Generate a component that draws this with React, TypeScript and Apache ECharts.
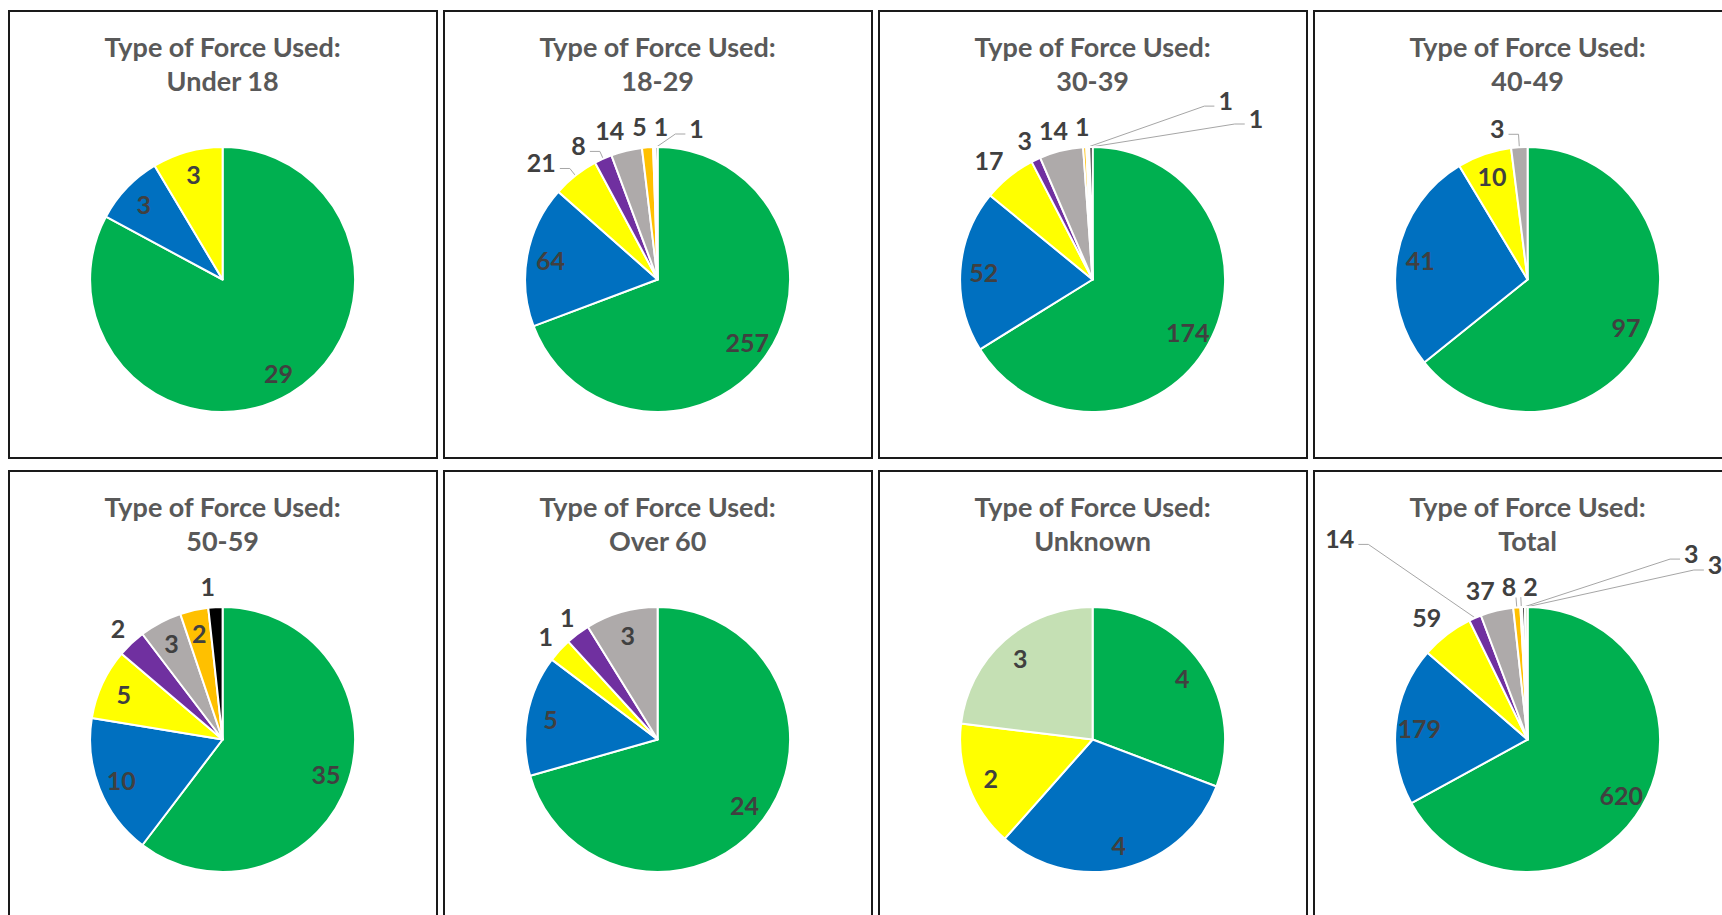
import React, { useEffect, useRef } from "react";
import * as echarts from "echarts";

// ---------- data ----------
const CATEGORIES = [
  "Category 1",
  "Category 2",
  "Category 3",
  "Category 4",
  "Category 5",
  "Category 6",
  "Category 7",
  "Category 8",
  "Category 9",
];
const CATEGORY_COLORS = [
  "#00B050",
  "#0070C0",
  "#FFFF00",
  "#7030A0",
  "#AEAAAA",
  "#FFC000",
  "#FFFFFF",
  "#000000",
  "#C5E0B4",
];

const TITLE_PREFIX = "Type of Force Used:";
const PANEL_TITLES = ["Under 18", "18-29", "30-39", "40-49", "50-59", "Over 60", "Unknown", "Total"];

const UNDER_18 = [29, 3, 3, 0, 0, 0, 0, 0, 0];
const AGE_18_29 = [257, 64, 21, 8, 14, 5, 1, 1, 0];
const AGE_30_39 = [174, 52, 17, 3, 14, 1, 1, 1, 0];
const AGE_40_49 = [97, 41, 10, 0, 3, 0, 0, 0, 0];
const AGE_50_59 = [35, 10, 5, 2, 3, 2, 0, 1, 0];
const OVER_60 = [24, 5, 1, 1, 3, 0, 0, 0, 0];
const UNKNOWN = [4, 4, 2, 0, 0, 0, 0, 0, 3];
const TOTAL = [620, 179, 59, 14, 37, 8, 2, 3, 3];

const PANEL_VALUES = [UNDER_18, AGE_18_29, AGE_30_39, AGE_40_49, AGE_50_59, OVER_60, UNKNOWN, TOTAL];

// ---------- label placement styles (per panel, per category) ----------
type LabelSpec =
  | { mode: "out" }
  | { mode: "outLine" }
  | { mode: "lead"; len: number; len2: number; side: "left" | "right" };

const OUT: LabelSpec = { mode: "out" };
const LABEL_SPECS: Record<number, LabelSpec>[] = [
  {},
  {
    2: { mode: "lead", len: 9, len2: 10, side: "left" },
    3: { mode: "lead", len: 8, len2: 10, side: "left" },
    4: OUT,
    5: OUT,
    6: OUT,
    7: { mode: "lead", len: 13, len2: 29, side: "right" },
  },
  {
    2: OUT,
    3: OUT,
    4: OUT,
    5: OUT,
    6: { mode: "lead", len: 41, len2: 128, side: "right" },
    7: { mode: "lead", len: 23, len2: 154, side: "right" },
  },
  { 4: { mode: "lead", len: 13, len2: 10, side: "left" } },
  { 3: OUT, 7: OUT },
  { 2: OUT, 3: OUT },
  {},
  {
    2: OUT,
    3: { mode: "lead", len: 80, len2: 85, side: "left" },
    4: OUT,
    5: { mode: "outLine" },
    6: { mode: "outLine" },
    7: { mode: "lead", len: 48, len2: 158, side: "right" },
    8: { mode: "lead", len: 37, len2: 178, side: "right" },
  },
];

// ---------- layout / style constants ----------
const PANEL_LEFT0 = 7.5;
const PANEL_STEP_X = 435.3;
const PANEL_TOPS = [10, 470];
const PANEL_W = 430;
const PANEL_H = 449;
const PIE_CX = 214.6;
const PIE_CY = 269.5;
const PIE_R = 132.5;
const FONT = "Lato, 'Open Sans', sans-serif";
const OUT_GAP = 9;
const LABEL_MARGIN = 7;

function buildOption(p: number): any {
  const values = PANEL_VALUES[p];
  const specMap = LABEL_SPECS[p];
  const items = values.map((v, i) => ({ v, i })).filter((d) => d.v > 0);
  const specs = items.map((d) => specMap[d.i]);

  const labelFont = {
    fontFamily: FONT,
    fontSize: 25,
    fontWeight: "bold" as const,
    color: "#404040",
    textBorderWidth: 0,
  };

  const mainData = items.map((d) => {
    const spec = specMap[d.i];
    const base: any = {
      name: CATEGORIES[d.i],
      value: d.v,
      itemStyle: { color: CATEGORY_COLORS[d.i] },
    };
    if (!spec) {
      base.label = { show: false };
      base.labelLine = { show: false };
    } else if (spec.mode === "out" || spec.mode === "outLine") {
      base.label = { show: true, position: "outside", minMargin: LABEL_MARGIN };
      base.labelLine = {
        show: true,
        length: 10,
        length2: 0,
        lineStyle: { opacity: spec.mode === "out" ? 0 : 1 },
      };
    } else {
      base.label = { show: true, position: "outside" };
      base.labelLine = { show: true, length: spec.len, length2: spec.len2 };
    }
    return base;
  });

  const overlayData = items.map((d) => ({
    name: CATEGORIES[d.i],
    value: d.v,
    label: { show: !specMap[d.i] },
  }));

  const labelLayout = (params: any) => {
    const spec = specs[params.dataIndex];
    const pts = params.labelLinePoints;
    if (!spec || !pts || pts.length < 2) return {};
    const p0 = pts[0];
    const p1 = pts[1];
    const h = params.labelRect.height;
    if (spec.mode === "out" || spec.mode === "outLine") {
      const dx = p1[0] - p0[0];
      const dy = p1[1] - p0[1];
      const l = Math.hypot(dx, dy) || 1;
      const ux = dx / l;
      const uy = dy / l;
      const x = p0[0] + ux * OUT_GAP;
      const y = p0[1] + uy * (OUT_GAP + h / 2);
      return {
        x,
        y,
        align: ux < 0 ? "right" : "left",
        verticalAlign: "middle",
        moveOverlap: "shiftX",
        labelLinePoints: [
          [p0[0], p0[1]],
          [p0[0] + ux * (OUT_GAP + 1), p0[1] + uy * (OUT_GAP + 1)],
        ],
      };
    }
    const right = spec.side === "right";
    const s = right ? 1 : -1;
    const ex = p1[0] + s * spec.len2;
    const ey = p1[1];
    const bend = [ex - s * Math.min(10, spec.len2), ey];
    return {
      x: ex + s * 4,
      y: ey - 6,
      align: right ? "left" : "right",
      verticalAlign: "middle",
      labelLinePoints: [[p0[0], p0[1]], bend, [ex, ey]],
    };
  };

  return {
    animation: false,
    backgroundColor: "#ffffff",
    graphic: [
      {
        type: "rect",
        shape: { x: 1, y: 1, width: PANEL_W - 2, height: PANEL_H - 2 },
        style: { fill: "none", stroke: "#1a1a1a", lineWidth: 2 },
        silent: true,
        z: 0,
      },
      {
        type: "text",
        x: PIE_CX,
        y: 19,
        silent: true,
        style: {
          text: TITLE_PREFIX + "\n" + PANEL_TITLES[p],
          fill: "#595959",
          fontFamily: FONT,
          fontSize: 27,
          fontWeight: "bold",
          lineHeight: 34,
          align: "center",
          verticalAlign: "top",
        },
      },
    ],
    series: [
      {
        type: "pie",
        center: [PIE_CX, PIE_CY],
        radius: PIE_R,
        startAngle: 90,
        clockwise: true,
        avoidLabelOverlap: false,
        silent: true,
        emphasis: { disabled: true },
        itemStyle: { borderColor: "#ffffff", borderWidth: 2 },
        label: { ...labelFont, formatter: "{c}", bleedMargin: 2 },
        labelLine: { smooth: false, lineStyle: { color: "#A6A6A6", width: 1 } },
        labelLayout,
        data: mainData,
      },
      {
        type: "pie",
        center: [PIE_CX, PIE_CY],
        radius: [PIE_R * 0.6, PIE_R],
        startAngle: 90,
        clockwise: true,
        avoidLabelOverlap: false,
        silent: true,
        emphasis: { disabled: true },
        itemStyle: { color: "rgba(0,0,0,0)", borderWidth: 0 },
        label: { ...labelFont, position: "inside", formatter: "{c}" },
        labelLine: { show: false },
        data: overlayData,
      },
    ],
  };
}

function Panel({ index }: { index: number }) {
  const ref = useRef<HTMLDivElement | null>(null);
  useEffect(() => {
    if (!ref.current) return;
    const chart = echarts.init(ref.current, undefined, { renderer: "svg" });
    chart.setOption(buildOption(index));
    return () => chart.dispose();
  }, [index]);
  const col = index % 4;
  const row = Math.floor(index / 4);
  return (
    <div
      ref={ref}
      style={{
        position: "absolute",
        left: PANEL_LEFT0 + col * PANEL_STEP_X,
        top: PANEL_TOPS[row],
        width: PANEL_W,
        height: PANEL_H,
      }}
    />
  );
}

export default function App() {
  return (
    <div
      style={{
        position: "fixed",
        left: 0,
        top: 0,
        width: 1722,
        height: 915,
        overflow: "hidden",
        background: "#ffffff",
      }}
    >
      {PANEL_VALUES.map((_, i) => (
        <Panel key={i} index={i} />
      ))}
    </div>
  );
}
